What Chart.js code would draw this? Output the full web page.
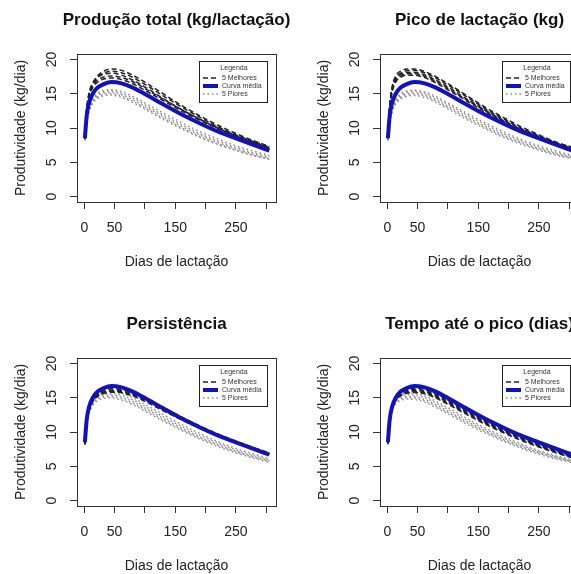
<!DOCTYPE html>
<html>
<head>
<meta charset="utf-8">
<script src="https://cdn.jsdelivr.net/npm/chart.js@4.4.1/dist/chart.umd.min.js"></script>
<style>
  body { margin: 0; background: #fff; width: 571px; height: 574px; overflow: hidden; position: relative; }
  .panel { position: absolute; width: 303px; height: 304px; }
</style>
</head>
<body>
<div class="panel" style="left:0;top:0"><canvas id="c1" width="303" height="304"></canvas></div>
<div class="panel" style="left:303px;top:0"><canvas id="c2" width="303" height="304"></canvas></div>
<div class="panel" style="left:0;top:304px"><canvas id="c3" width="303" height="304"></canvas></div>
<div class="panel" style="left:303px;top:304px"><canvas id="c4" width="303" height="304"></canvas></div>
<script>
// days of lactation where the curves were read
const days = [1, 4, 8, 14, 22, 32, 45, 60, 80, 105, 130, 160, 190, 220, 250, 280, 305];
const xTicks = [0, 50, 100, 150, 200, 250, 300];
const xTickLabels = ['0', '50', '', '150', '', '250', ''];
const yTicks = [0, 5, 10, 15, 20];
const titles = ['Produção total (kg/lactação)', 'Pico de lactação (kg)', 'Persistência', 'Tempo até o pico (dias)'];
const legendLabels = ['5 Melhores', 'Curva média', '5 Piores'];

// mean curve (same in every panel)
const meanCurve = [8.5, 11.8, 13.7, 15.0, 15.9, 16.4, 16.7, 16.55, 15.9, 14.7, 13.45, 12.0, 10.7, 9.5, 8.5, 7.5, 6.7];

// Produção total
const prodTotalBest = [
  [8.6, 12.5, 14.9, 16.5, 17.6, 18.3, 18.6, 18.45, 17.7, 16.4, 15.0, 13.3, 11.8, 10.4, 9.2, 8.1, 7.3],
  [8.5, 12.4, 14.8, 16.3, 17.4, 18.0, 18.3, 18.1, 17.4, 16.1, 14.7, 13.1, 11.6, 10.2, 9.0, 8.0, 7.2],
  [8.6, 12.8, 15.2, 16.6, 17.4, 17.85, 18.0, 17.75, 17.0, 15.7, 14.3, 12.7, 11.3, 10.0, 8.9, 7.9, 7.1],
  [8.5, 12.6, 14.9, 16.2, 17.0, 17.45, 17.6, 17.4, 16.75, 15.5, 14.2, 12.7, 11.3, 10.0, 8.85, 7.85, 7.0],
  [8.4, 12.3, 14.6, 15.9, 16.7, 17.15, 17.3, 17.1, 16.45, 15.25, 14.0, 12.5, 11.15, 9.9, 8.8, 7.8, 6.95]
];
const prodTotalWorst = [
  [8.4, 11.3, 13.0, 14.3, 15.1, 15.5, 15.6, 15.35, 14.6, 13.4, 12.2, 10.8, 9.5, 8.4, 7.4, 6.6, 6.0],
  [8.3, 11.2, 12.9, 14.1, 14.9, 15.3, 15.4, 15.1, 14.35, 13.15, 11.9, 10.5, 9.2, 8.1, 7.15, 6.35, 5.8],
  [8.2, 11.0, 12.7, 13.9, 14.7, 15.1, 15.2, 14.9, 14.1, 12.9, 11.65, 10.25, 9.0, 7.9, 6.95, 6.15, 5.65],
  [8.3, 11.0, 12.6, 13.8, 14.5, 14.9, 15.0, 14.7, 13.9, 12.7, 11.45, 10.05, 8.8, 7.7, 6.8, 6.0, 5.5],
  [8.2, 10.8, 12.4, 13.6, 14.3, 14.7, 14.8, 14.5, 13.7, 12.5, 11.25, 9.9, 8.65, 7.6, 6.7, 5.95, 5.45]
];

// Pico de lactação
const picoBest = [
  [8.7, 13.3, 16.0, 17.6, 18.3, 18.6, 18.6, 18.3, 17.5, 16.2, 14.8, 13.1, 11.6, 10.2, 9.0, 7.9, 7.2],
  [8.6, 13.0, 15.7, 17.3, 18.0, 18.35, 18.4, 18.1, 17.3, 16.0, 14.6, 12.9, 11.4, 10.0, 8.85, 7.8, 7.1],
  [8.6, 13.1, 15.8, 17.2, 17.85, 18.1, 18.1, 17.8, 17.0, 15.7, 14.3, 12.7, 11.2, 9.9, 8.75, 7.7, 7.0],
  [8.5, 12.8, 15.4, 16.9, 17.6, 17.9, 17.9, 17.6, 16.8, 15.5, 14.15, 12.6, 11.1, 9.8, 8.65, 7.65, 6.95],
  [8.5, 12.6, 15.2, 16.7, 17.4, 17.7, 17.7, 17.4, 16.6, 15.3, 14.0, 12.45, 11.0, 9.7, 8.6, 7.6, 6.9]
];
const picoWorst = [
  [8.4, 11.2, 12.9, 14.2, 15.0, 15.4, 15.5, 15.3, 14.6, 13.4, 12.2, 10.8, 9.5, 8.35, 7.4, 6.6, 6.0],
  [8.3, 11.0, 12.7, 14.0, 14.8, 15.2, 15.35, 15.1, 14.4, 13.2, 11.95, 10.55, 9.25, 8.15, 7.2, 6.4, 5.85],
  [8.3, 11.0, 12.6, 13.8, 14.6, 15.0, 15.15, 14.9, 14.15, 12.95, 11.7, 10.3, 9.05, 7.95, 7.0, 6.25, 5.7],
  [8.2, 10.8, 12.4, 13.6, 14.4, 14.8, 14.95, 14.7, 13.95, 12.75, 11.5, 10.1, 8.85, 7.8, 6.9, 6.1, 5.6],
  [8.2, 10.7, 12.3, 13.5, 14.2, 14.6, 14.75, 14.5, 13.75, 12.55, 11.3, 9.95, 8.7, 7.65, 6.75, 6.0, 5.5]
];

// Persistência
const persistBest = [
  [8.4, 11.6, 13.5, 14.8, 15.7, 16.2, 16.5, 16.45, 15.9, 14.8, 13.6, 12.2, 10.9, 9.7, 8.65, 7.7, 6.95],
  [8.3, 11.5, 13.4, 14.7, 15.5, 16.0, 16.3, 16.25, 15.7, 14.65, 13.5, 12.1, 10.8, 9.65, 8.6, 7.65, 6.9],
  [8.3, 11.4, 13.3, 14.6, 15.4, 15.85, 16.1, 16.05, 15.55, 14.5, 13.35, 12.0, 10.75, 9.6, 8.55, 7.6, 6.85],
  [8.2, 11.3, 13.2, 14.5, 15.3, 15.75, 15.95, 15.9, 15.4, 14.4, 13.25, 11.9, 10.65, 9.5, 8.45, 7.55, 6.8],
  [8.2, 11.2, 13.1, 14.4, 15.2, 15.6, 15.8, 15.75, 15.25, 14.25, 13.1, 11.8, 10.55, 9.4, 8.4, 7.5, 6.75]
];
const persistWorst = [
  [8.4, 11.5, 13.4, 14.7, 15.45, 15.8, 15.9, 15.7, 15.0, 13.8, 12.55, 11.1, 9.8, 8.6, 7.6, 6.75, 6.1],
  [8.3, 11.4, 13.2, 14.5, 15.2, 15.55, 15.6, 15.4, 14.7, 13.5, 12.25, 10.85, 9.55, 8.4, 7.4, 6.55, 5.95],
  [8.3, 11.3, 13.1, 14.3, 15.0, 15.3, 15.4, 15.15, 14.45, 13.25, 12.0, 10.6, 9.3, 8.2, 7.2, 6.4, 5.8],
  [8.2, 11.2, 13.0, 14.1, 14.8, 15.1, 15.15, 14.9, 14.2, 13.0, 11.75, 10.4, 9.15, 8.05, 7.1, 6.3, 5.7],
  [8.2, 11.1, 12.8, 13.9, 14.6, 14.9, 14.95, 14.7, 14.0, 12.8, 11.6, 10.25, 9.0, 7.9, 6.95, 6.15, 5.6]
];

// Tempo até o pico
const tempoBest = [
  [8.4, 11.9, 13.8, 15.0, 15.8, 16.2, 16.4, 16.25, 15.6, 14.4, 13.2, 11.75, 10.45, 9.3, 8.25, 7.3, 6.55],
  [8.4, 11.8, 13.7, 14.9, 15.65, 16.05, 16.2, 16.05, 15.4, 14.25, 13.05, 11.6, 10.3, 9.15, 8.1, 7.2, 6.45],
  [8.3, 11.7, 13.6, 14.8, 15.5, 15.9, 16.05, 15.9, 15.25, 14.1, 12.9, 11.5, 10.2, 9.05, 8.0, 7.1, 6.4],
  [8.3, 11.6, 13.5, 14.7, 15.4, 15.8, 15.9, 15.75, 15.1, 13.95, 12.75, 11.35, 10.1, 8.95, 7.9, 7.0, 6.3],
  [8.3, 11.5, 13.4, 14.6, 15.3, 15.65, 15.75, 15.6, 14.95, 13.8, 12.6, 11.2, 9.95, 8.8, 7.8, 6.9, 6.25]
];
const tempoWorst = [
  [8.4, 11.9, 13.8, 14.9, 15.5, 15.7, 15.65, 15.3, 14.5, 13.3, 12.05, 10.65, 9.4, 8.3, 7.3, 6.5, 5.95],
  [8.3, 11.7, 13.6, 14.7, 15.25, 15.45, 15.4, 15.05, 14.25, 13.05, 11.8, 10.45, 9.2, 8.1, 7.15, 6.35, 5.8],
  [8.3, 11.6, 13.4, 14.5, 15.0, 15.2, 15.15, 14.8, 14.0, 12.8, 11.6, 10.25, 9.0, 7.95, 7.0, 6.25, 5.7],
  [8.2, 11.4, 13.2, 14.3, 14.8, 15.0, 14.95, 14.6, 13.8, 12.6, 11.4, 10.1, 8.85, 7.8, 6.9, 6.15, 5.65],
  [8.2, 11.3, 13.1, 14.1, 14.6, 14.8, 14.75, 14.4, 13.6, 12.4, 11.2, 9.9, 8.7, 7.65, 6.75, 6.0, 5.55]
];

const FONT = "'Liberation Sans', Arial, Helvetica, sans-serif";
const INK = '#222';

const styles = {
  best:  { borderColor: '#222', borderWidth: 1.5, borderDash: [5, 3] },
  mean:  { borderColor: '#1010c8', borderWidth: 4, borderDash: [] },
  worst: { borderColor: '#8a8a8a', borderWidth: 1.5, borderDash: [1.5, 3] }
};

function toPoints(vals) {
  return days.map((d, i) => ({ x: d, y: vals[i] }));
}

function lineSet(vals, style) {
  return Object.assign({
    data: toPoints(vals),
    pointRadius: 0,
    fill: false,
    cubicInterpolationMode: 'monotone'
  }, style);
}

// frame around the plot region
const plotBox = {
  id: 'plotBox',
  afterDatasetsDraw(chart) {
    const { ctx, chartArea: a } = chart;
    ctx.save();
    ctx.strokeStyle = '#333';
    ctx.lineWidth = 1;
    ctx.strokeRect(Math.round(a.left) + 0.5, Math.round(a.top) + 0.5,
      Math.round(a.right - a.left), Math.round(a.bottom - a.top));
    ctx.restore();
  }
};

// bold title centred over the plot region (may be wider than the plot)
const panelTitle = {
  id: 'panelTitle',
  afterDraw(chart, args, opts) {
    const { ctx, chartArea: a } = chart;
    ctx.save();
    ctx.font = 'bold 17px ' + FONT;
    ctx.fillStyle = '#111';
    ctx.textAlign = 'center';
    ctx.textBaseline = 'middle';
    ctx.fillText(opts.text, (a.left + a.right) / 2, 20);
    ctx.restore();
  }
};

// small boxed legend in the top right corner
const boxLegend = {
  id: 'boxLegend',
  afterDraw(chart) {
    const { ctx, chartArea: a } = chart;
    const w = 68, h = 41;
    const x = Math.round(a.right) - 9 - w, y = Math.round(a.top) + 7;
    ctx.save();
    ctx.fillStyle = '#fff';
    ctx.fillRect(x, y, w, h);
    ctx.strokeStyle = '#222';
    ctx.lineWidth = 1;
    ctx.strokeRect(x + 0.5, y + 0.5, w, h);
    ctx.font = '7px ' + FONT;
    ctx.fillStyle = '#333';
    ctx.textBaseline = 'middle';
    ctx.textAlign = 'center';
    ctx.fillText('Legenda', x + w / 2 + 1, y + 7);
    const rows = [styles.best, styles.mean, styles.worst];
    rows.forEach((s, i) => {
      const ry = y + 17 + i * 8;
      ctx.beginPath();
      ctx.strokeStyle = s.borderColor;
      ctx.lineWidth = i === 1 ? 4 : 1.5;
      ctx.setLineDash(s.borderDash);
      ctx.moveTo(x + 4, ry);
      ctx.lineTo(x + 19, ry);
      ctx.stroke();
      ctx.setLineDash([]);
      ctx.textAlign = 'left';
      ctx.fillText(legendLabels[i], x + 23, ry);
    });
    ctx.restore();
  }
};

const panels = [
  { id: 'c1', title: titles[0], best: prodTotalBest, worst: prodTotalWorst },
  { id: 'c2', title: titles[1], best: picoBest, worst: picoWorst },
  { id: 'c3', title: titles[2], best: persistBest, worst: persistWorst },
  { id: 'c4', title: titles[3], best: tempoBest, worst: tempoWorst }
];

panels.forEach(p => {
  const datasets = [lineSet(meanCurve, styles.mean)]
    .concat(p.best.map(v => lineSet(v, styles.best)))
    .concat(p.worst.map(v => lineSet(v, styles.worst)));

  new Chart(document.getElementById(p.id), {
    type: 'line',
    data: { datasets: datasets },
    options: {
      responsive: false,
      animation: false,
      devicePixelRatio: 1,
      layout: { padding: { left: 0, right: 27, top: 54, bottom: 0 } },
      plugins: {
        legend: { display: false },
        tooltip: { enabled: false },
        title: { display: false },
        panelTitle: { text: p.title }
      },
      scales: {
        x: {
          type: 'linear',
          min: -12,
          max: 316,
          afterBuildTicks: s => { s.ticks = xTicks.map(v => ({ value: v })); },
          afterFit: s => { s.height = 102; },
          ticks: {
            autoSkip: false,
            maxRotation: 0,
            padding: 10.6,
            color: INK,
            font: { family: FONT, size: 14 },
            callback: (v) => xTickLabels[xTicks.indexOf(v)]
          },
          grid: { drawOnChartArea: false, tickLength: 7, tickColor: '#333' },
          border: { color: '#333' },
          title: {
            display: true,
            text: 'Dias de lactação',
            color: INK,
            font: { family: FONT, size: 14 },
            padding: { top: 0, bottom: 33.6 }
          }
        },
        y: {
          type: 'linear',
          min: -0.8,
          max: 20.8,
          afterBuildTicks: s => { s.ticks = yTicks.map(v => ({ value: v })); },
          afterFit: s => { s.width = 77; },
          ticks: {
            minRotation: 90,
            maxRotation: 90,
            crossAlign: 'center',
            padding: 10.2,
            color: INK,
            font: { family: FONT, size: 14 }
          },
          grid: { drawOnChartArea: false, tickLength: 7, tickColor: '#333' },
          border: { color: '#333' },
          title: {
            display: true,
            text: 'Produtividade (kg/dia)',
            color: INK,
            font: { family: FONT, size: 14 },
            padding: { top: 12.6, bottom: 0 }
          }
        }
      }
    },
    plugins: [plotBox, panelTitle, boxLegend]
  });
});
</script>
</body>
</html>
